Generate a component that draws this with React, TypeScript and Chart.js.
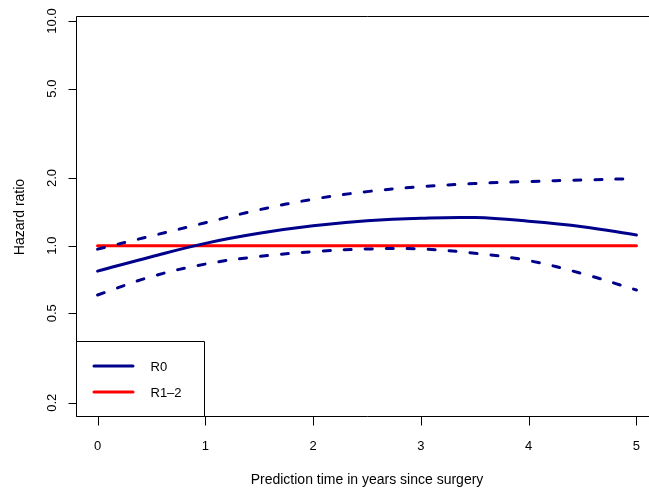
import React, { useEffect, useRef } from "react";
import { Chart, registerables } from "chart.js";

Chart.register(...registerables);

const times = [0, 0.5, 1, 1.5, 2, 2.5, 3, 3.5, 4, 4.5, 5];
const r0Estimate = [0.77, 0.893, 1.024, 1.135, 1.225, 1.29, 1.325, 1.333, 1.285, 1.215, 1.116];
const r0Upper = [0.965, 1.105, 1.265, 1.445, 1.61, 1.74, 1.83, 1.89, 1.93, 1.96, 1.99];
const r0Lower = [0.603, 0.728, 0.828, 0.895, 0.94, 0.966, 0.966, 0.925, 0.858, 0.75, 0.635];
const refTimes = [0, 5];
const refValues = [1, 1];

const xTicks = [0, 1, 2, 3, 4, 5];
const xTickLabels = ["0", "1", "2", "3", "4", "5"];
const yTicks = [0.2, 0.5, 1, 2, 5, 10];
const yTickLabels = ["0.2", "0.5", "1.0", "2.0", "5.0", "10.0"];
const legendLabels = ["R0", "R1\u20132"];

const xTitle = "Prediction time in years since surgery";
const yTitle = "Hazard ratio";

const BLUE = "#00008B";
const RED = "#FF0000";
const FONT = '"Liberation Sans", Arial, Helvetica, sans-serif';

const pts = (xs: number[], ys: number[]) => xs.map((x, i) => ({ x, y: ys[i] }));

const axesPlugin = {
  id: "rAxes",
  afterDraw(chart: any) {
    const ctx = chart.ctx as CanvasRenderingContext2D;
    const { left, right, top, bottom } = chart.chartArea;
    const xs = chart.scales.x;
    const ys = chart.scales.y;
    const L = Math.round(left) + 0.5;
    const T = Math.round(top) - 0.5;
    const B = Math.round(bottom) - 0.5;
    ctx.save();
    ctx.strokeStyle = "#000";
    ctx.lineWidth = 1;
    ctx.setLineDash([]);
    ctx.beginPath();
    ctx.rect(L, T, Math.round(right) - L, B - T);
    ctx.stroke();

    ctx.fillStyle = "#000";
    ctx.font = `13px ${FONT}`;
    yTicks.forEach((v, i) => {
      const y = Math.round(ys.getPixelForValue(v)) + 0.5;
      ctx.beginPath();
      ctx.moveTo(L, y);
      ctx.lineTo(L - 8, y);
      ctx.stroke();
      ctx.save();
      ctx.translate(56, ys.getPixelForValue(v));
      ctx.rotate(-Math.PI / 2);
      ctx.textAlign = "center";
      ctx.textBaseline = "alphabetic";
      ctx.fillText(yTickLabels[i], 0, 0);
      ctx.restore();
    });
    xTicks.forEach((v, i) => {
      const x = Math.round(xs.getPixelForValue(v)) + 0.5;
      ctx.beginPath();
      ctx.moveTo(x, B);
      ctx.lineTo(x, B + 9);
      ctx.stroke();
      ctx.textAlign = "center";
      ctx.textBaseline = "alphabetic";
      ctx.fillText(xTickLabels[i], xs.getPixelForValue(v), 449.5);
    });
    ctx.font = `14px ${FONT}`;
    ctx.textAlign = "center";
    ctx.fillText(xTitle, xs.getPixelForValue(2.5), 484);
    ctx.save();
    ctx.translate(23.5, (top + bottom) / 2);
    ctx.rotate(-Math.PI / 2);
    ctx.fillText(yTitle, 0, 0);
    ctx.restore();

    const lx0 = L;
    const lx1 = 204.5;
    const ly0 = 341.5;
    ctx.fillStyle = "#fff";
    ctx.fillRect(lx0, ly0, lx1 - lx0, B - ly0);
    ctx.strokeStyle = "#000";
    ctx.beginPath();
    ctx.rect(lx0, ly0, lx1 - lx0, B - ly0);
    ctx.stroke();
    const rows = [366, 392];
    const cols = [BLUE, RED];
    ctx.lineWidth = 3;
    ctx.lineCap = "round";
    ctx.font = `13px ${FONT}`;
    ctx.textAlign = "left";
    rows.forEach((y, i) => {
      ctx.strokeStyle = cols[i];
      ctx.beginPath();
      ctx.moveTo(94, y);
      ctx.lineTo(133, y);
      ctx.stroke();
      ctx.fillStyle = "#000";
      ctx.fillText(legendLabels[i], 150.5, y + 5);
    });
    ctx.restore();
  },
};

export default function App() {
  const ref = useRef<HTMLCanvasElement | null>(null);
  useEffect(() => {
    if (!ref.current) return;
    const common = {
      pointRadius: 0,
      borderWidth: 3,
      fill: false,
      tension: 0.4,
      borderCapStyle: "round" as const,
      borderJoinStyle: "round" as const,
    };
    const chart = new Chart(ref.current, {
      type: "line",
      data: {
        datasets: [
          { ...common, label: "R0 upper", data: pts(times, r0Upper), borderColor: BLUE, borderDash: [7, 14] },
          { ...common, label: "R0 lower", data: pts(times, r0Lower), borderColor: BLUE, borderDash: [7, 14] },
          { ...common, label: legendLabels[0], data: pts(times, r0Estimate), borderColor: BLUE },
          { ...common, label: legendLabels[1], data: pts(refTimes, refValues), borderColor: RED },
        ],
      },
      options: {
        animation: false,
        responsive: false,
        devicePixelRatio: 1,
        layout: { padding: { left: 76, top: 17, bottom: 71, right: 0 } },
        plugins: { legend: { display: false }, tooltip: { enabled: false } },
        scales: {
          x: { type: "linear", min: -0.2, max: 5.2, display: false, bounds: "data" },
          y: { type: "logarithmic", min: 0.1727, max: 10.42, display: false, bounds: "data" },
        },
      },
      plugins: [axesPlugin],
    });
    return () => chart.destroy();
  }, []);
  return (
    <div style={{ position: "fixed", left: 0, top: 0, width: 649, height: 488, overflow: "hidden", background: "#fff" }}>
      <canvas ref={ref} width={658} height={488} style={{ display: "block", width: 658, height: 488 }} />
    </div>
  );
}
